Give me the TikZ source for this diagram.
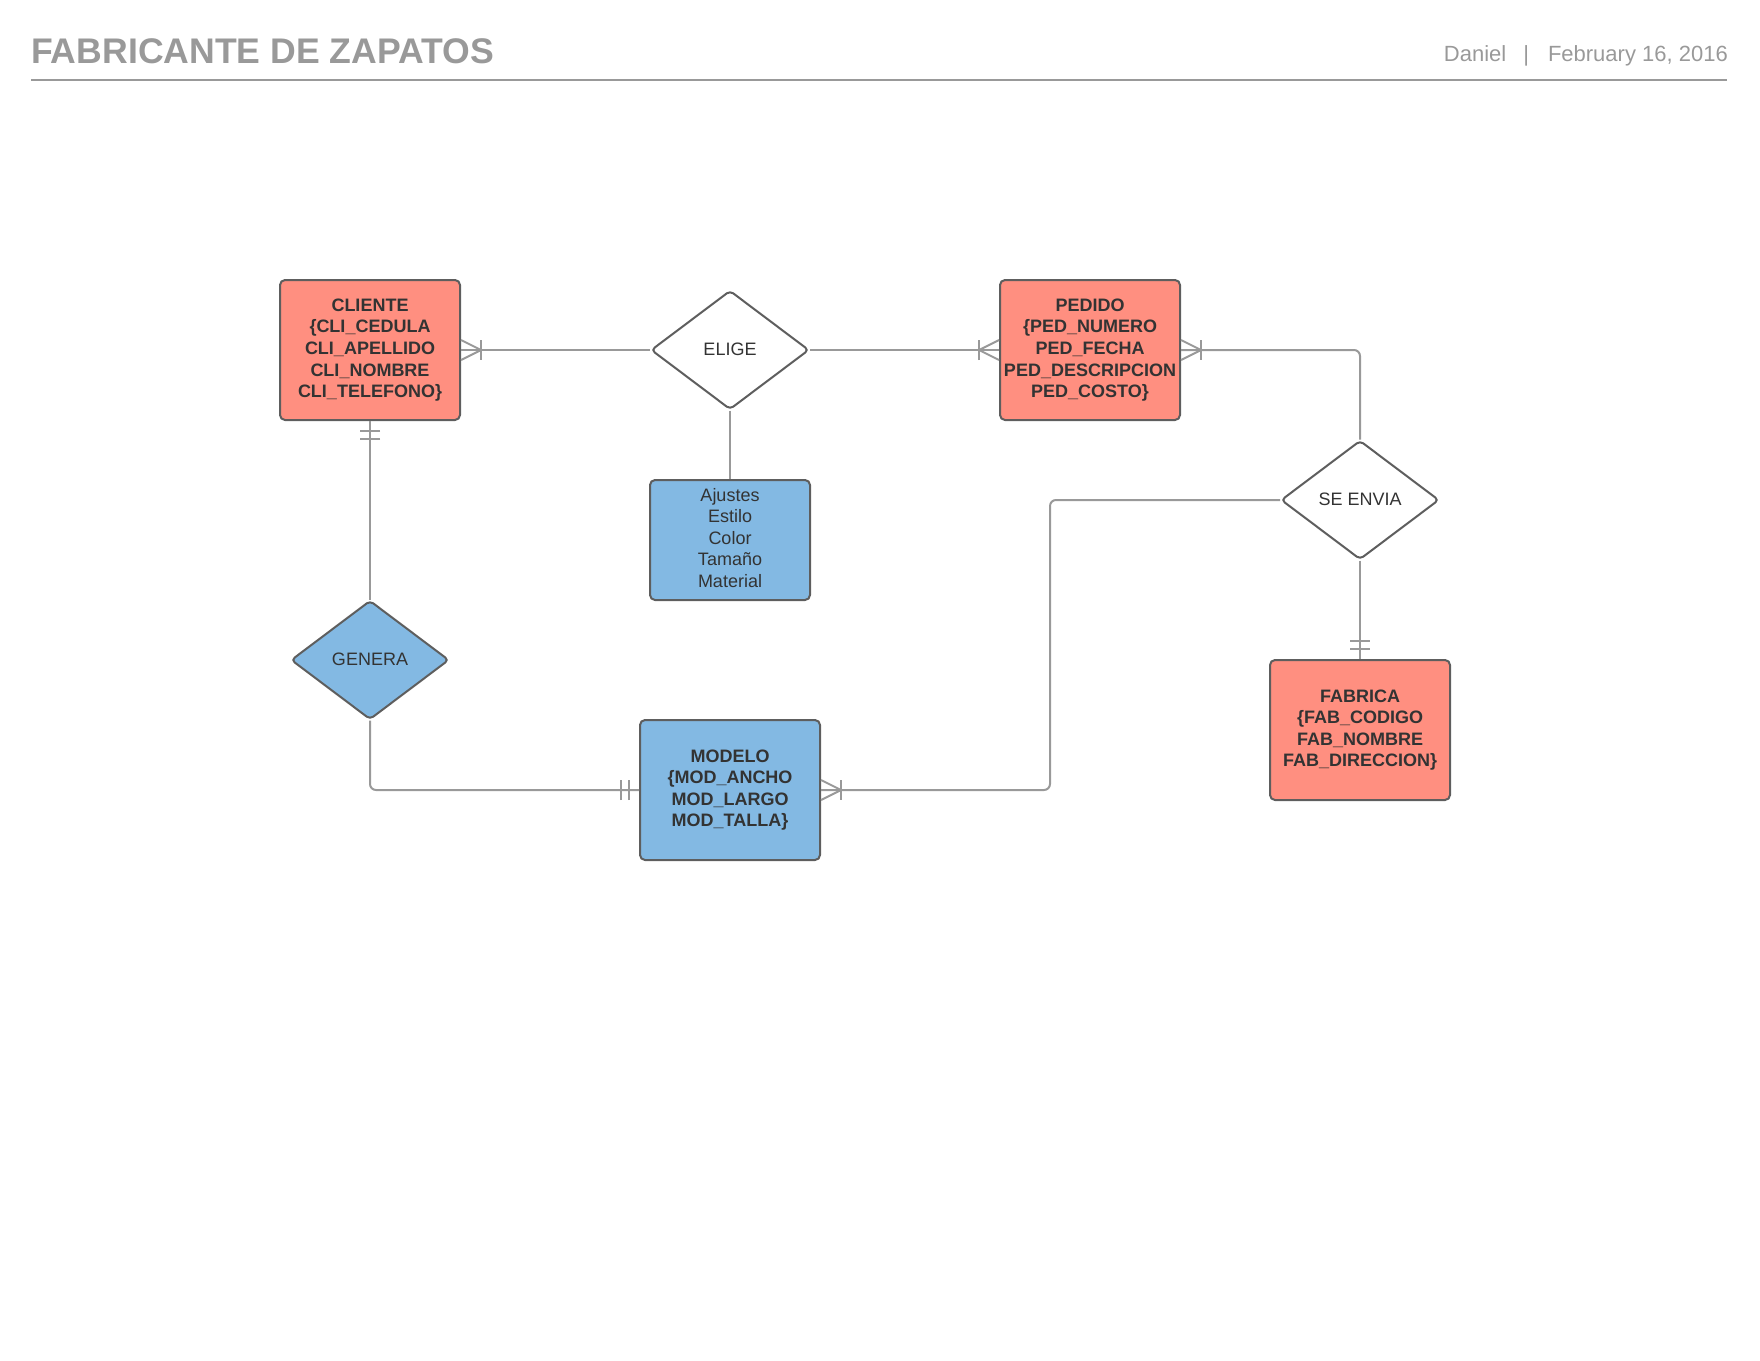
\documentclass[tikz,border=0pt]{standalone}
\usepackage{fontspec}
\setmainfont{Liberation Sans}
\usetikzlibrary{shapes.geometric,calc}
\definecolor{entred}{HTML}{FF8F80}
\definecolor{entblue}{HTML}{83B9E3}
\definecolor{bord}{HTML}{5E5E5E}
\definecolor{connc}{HTML}{999999}
\definecolor{txt}{HTML}{333333}
\definecolor{hdr}{HTML}{999999}
\begin{document}
\begin{tikzpicture}[x=1pt,y=-1pt,
  entity/.style={draw=bord, line width=2pt, rounded corners=5pt, minimum width=180pt, minimum height=140pt, align=center, inner sep=0pt, text=txt, font=\fontsize{18}{21.6}\selectfont\bfseries},
  attrbox/.style={draw=bord, line width=2pt, rounded corners=5pt, fill=entblue, minimum width=160pt, minimum height=120pt, inner sep=0pt, text=txt, font=\fontsize{18}{21.6}\selectfont},
  relation/.style={diamond, draw=bord, line width=2pt, rounded corners=4pt, minimum width=158pt, minimum height=119pt, inner sep=0pt, text=txt, font=\fontsize{18}{21.6}\selectfont},
  connline/.style={draw=connc, line width=2pt},
  crowsfoot/.pic={\draw[connline] (0,-10) -- (20,0) -- (0,10); \draw[connline] (20,-10) -- (20,10);},
  onebars/.pic={\draw[connline] (10,-10) -- (10,10); \draw[connline] (18,-10) -- (18,10);}
]
\useasboundingbox (0,0) rectangle (1760,1360);
% header
\node[anchor=base west, inner sep=0pt, text=hdr, font=\fontsize{35.6}{40}\selectfont\bfseries] (title) at (31,63) {FABRICANTE DE ZAPATOS};
\node[anchor=base east, inner sep=0pt, text=hdr, font=\fontsize{22}{26}\selectfont] (meta) at (1728,61) {Daniel\hspace{17pt}|\hspace{19pt}February 16, 2016};
\coordinate (hl) at (31,80);
\coordinate (hr) at (1727,80);
\draw[draw=hdr, line width=2pt] (hl) -- (hr);
% entities
\node[entity, fill=entred] (cli) at (370,350) {CLIENTE\\\{CLI\_CEDULA\\CLI\_APELLIDO\\CLI\_NOMBRE\\CLI\_TELEFONO\}};
\node[entity, fill=entred] (ped) at (1090,350) {PEDIDO\\\{PED\_NUMERO\\PED\_FECHA\\PED\_DESCRIPCION\\PED\_COSTO\}};
\node[entity, fill=entblue] (mod) at (730,790) {MODELO\\\{MOD\_ANCHO\\MOD\_LARGO\\MOD\_TALLA\}};
\node[entity, fill=entred] (fab) at (1360,730) {FABRICA\\\{FAB\_CODIGO\\FAB\_NOMBRE\\FAB\_DIRECCION\}};
\node[attrbox] (attr) at (730,540) {\raisebox{2pt}{\begin{tabular}{@{}c@{}}Ajustes\\Estilo\\Color\\Tama\~no\\Material\end{tabular}}};
% relations
\node[relation, fill=white] (eli) at (730,350) {\raisebox{2pt}{ELIGE}};
\node[relation, fill=white] (env) at (1360,500) {\raisebox{2pt}{SE ENVIA}};
\node[relation, fill=entblue] (gen) at (370,660) {\raisebox{1.5pt}{GENERA}};
% connectors
\coordinate (bx) at (1050,0);
\draw[connline] (cli.east) -- (eli.west);
\draw[connline] (eli.east) -- (ped.west);
\draw[connline] (eli.south) -- (attr.north);
\draw[connline, rounded corners=6pt] (ped.east) -| (env.north);
\draw[connline] (env.south) -- (fab.north);
\draw[connline] (cli.south) -- (gen.north);
\draw[connline, rounded corners=6pt] (gen.south) |- (mod.west);
\draw[connline, rounded corners=6pt] (env.west) -- (env.west -| bx) -- (mod.east -| bx) -- (mod.east);
% cardinality marks
\pic at (cli.east) {crowsfoot};
\pic[rotate=180] at (ped.west) {crowsfoot};
\pic at (ped.east) {crowsfoot};
\pic at (mod.east) {crowsfoot};
\pic[rotate=-90] at (cli.south) {onebars};
\pic[rotate=90] at (fab.north) {onebars};
\pic[rotate=180] at (mod.west) {onebars};
\end{tikzpicture}
\end{document}
